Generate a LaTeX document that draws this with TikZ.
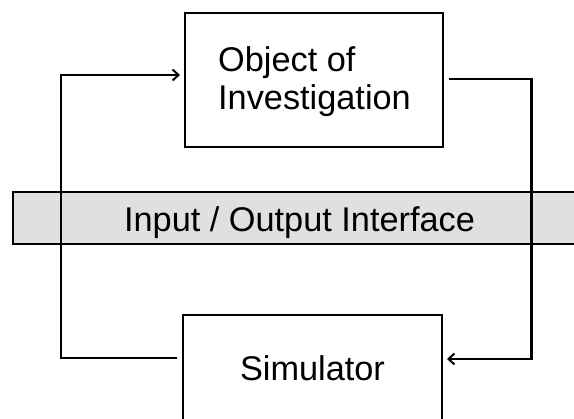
\documentclass[tikz,border=0pt]{standalone}
\usepackage{fontspec}
\setmainfont{Liberation Sans}
\usetikzlibrary{arrows.meta}
\definecolor{bandgray}{RGB}{224,224,224}
\begin{document}
\begin{tikzpicture}[x=1pt,y=-1pt,
  lbl/.style={font=\fontsize{34.3}{38.5}\selectfont, inner sep=0pt},
  blockbox/.style={draw, line width=2.6pt, fill=white, inner sep=0pt, outer sep=0pt},
  band/.style={draw, fill=bandgray, line width=2.4pt, inner sep=0pt},
  link/.style={line width=2.6pt},
  tip/.style={-{Straight Barb[length=6pt,width=11pt,line width=2pt]}},
  ]
\useasboundingbox (0,0) rectangle (574,419);
\clip (0,0) rectangle (574,419);

% interface band running across the page
\node[band, minimum width=572pt, minimum height=52pt] (iface) at (299,218) {};
\node[lbl, anchor=base] (ifacelabel) at (299.5,232) {Input / Output Interface};

% the two blocks
\node[blockbox, minimum width=258pt, minimum height=134pt] (obj) at (314,80) {};
\node[lbl, anchor=base west, align=left] (objlabel) at (218,110) {Object of\\Investigation};

\node[blockbox, minimum width=259pt, minimum height=108pt] (sim) at (312.5,369) {};
\node[lbl, anchor=base] (simlabel) at (312.5,381) {Simulator};

% ports on the blocks and the x positions of the loop
\coordinate (objin)  at ([yshift=-62pt]obj.north west);
\coordinate (objout) at ([yshift=-66pt]obj.north east);
\coordinate (simin)  at ([yshift=-44pt]sim.north east);
\coordinate (simout) at ([yshift=-43pt]sim.north west);
\coordinate (lc) at (61,0);
\coordinate (rc) at (531.5,0);

% simulator -> object of investigation
\draw[link, tip, shorten <=6pt, shorten >=5pt]
  (simout) -| (lc |- objin) -- (objin);
% object of investigation -> simulator
\draw[link, tip, shorten <=6pt, shorten >=5pt]
  (objout) -| (rc |- simin) -- (simin);
\end{tikzpicture}
\end{document}
